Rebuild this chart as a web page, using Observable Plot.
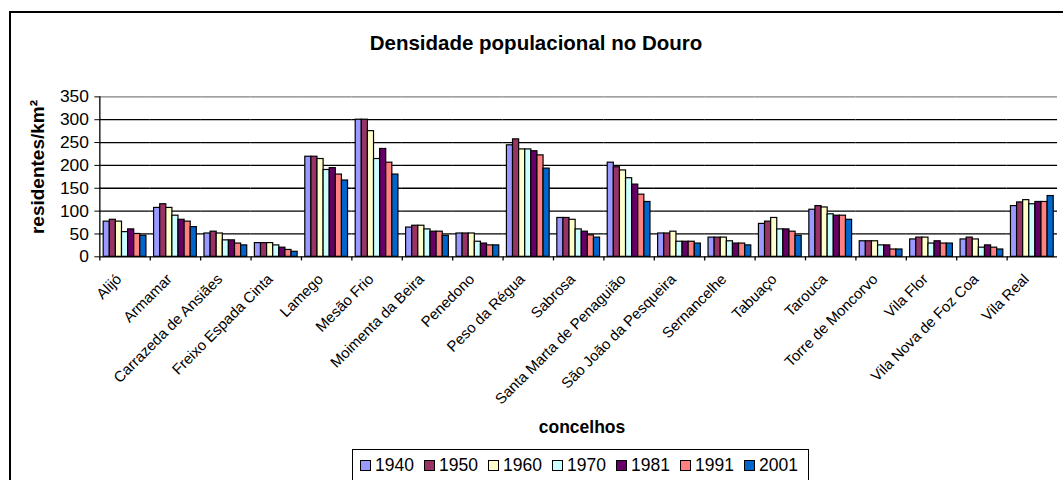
<!DOCTYPE html>
<html>
<head>
<meta charset="utf-8">
<script src="https://cdn.jsdelivr.net/npm/d3@7"></script>
<script src="https://cdn.jsdelivr.net/npm/@observablehq/plot@0.6"></script>
<style>
html, body { margin: 0; padding: 0; background: #fff; width: 1063px; height: 480px; overflow: hidden; }
#wrap { position: relative; width: 1063px; height: 480px; overflow: hidden; font-family: "Liberation Sans", Arial, sans-serif; color: #000; }
#frame { position: absolute; left: 9px; top: 11px; width: 1100px; height: 520px; border: 2px solid #000; box-sizing: border-box; }
#chart { position: absolute; left: 0; top: 0; }
#title { position: absolute; left: 10px; width: 1052px; top: 31px; text-align: center; font-weight: bold; font-size: 20.5px; line-height: 24px; white-space: nowrap; }
#ylab { position: absolute; left: 38px; top: 167px; transform: translate(-50%, -50%) rotate(-90deg); font-weight: bold; font-size: 19px; white-space: nowrap; }
#xlab { position: absolute; left: 482px; width: 200px; top: 417px; text-align: center; font-weight: bold; font-size: 17.5px; line-height: 20px; }
#legend { position: absolute; left: 352px; top: 449px; width: 457px; height: 40px; border: 1.5px solid #000; box-sizing: border-box; display: flex; align-items: flex-start; padding: 5px 0 0 7px; }
.item { display: flex; align-items: center; width: 65px; font-size: 17.5px; line-height: 20px; }
.sw { width: 11px; height: 11px; border: 1.5px solid #000; box-sizing: border-box; margin-right: 4px; }
</style>
</head>
<body>
<div id="wrap">
  <div id="frame"></div>
  <div id="chart"></div>
  <div id="title">Densidade populacional no Douro</div>
  <div id="ylab">residentes/km²</div>
  <div id="xlab">concelhos</div>
  <div id="legend"></div>
</div>
<script>
// ---- data ----
const concelhos = ["Alijó", "Armamar", "Carrazeda de Ansiães", "Freixo Espada Cinta", "Lamego", "Mesão Frio", "Moimenta da Beira", "Penedono", "Peso da Régua", "Sabrosa", "Santa Marta de Penaguião", "São João da Pesqueira", "Sernancelhe", "Tabuaço", "Tarouca", "Torre de Moncorvo", "Vila Flor", "Vila Nova de Foz Coa", "Vila Real"];
const years = ["1940", "1950", "1960", "1970", "1981", "1991", "2001"];
const v1940 = [77, 107, 51, 30, 219, 300, 64, 51, 244, 85, 206, 51, 42, 72, 103, 34, 38, 38, 111];
const v1950 = [81, 115, 55, 30, 219, 300, 68, 51, 257, 85, 196, 51, 42, 77, 111, 34, 42, 42, 119];
const v1960 = [77, 107, 51, 30, 214, 275, 68, 51, 235, 81, 189, 55, 42, 85, 108, 34, 42, 38, 124];
const v1970 = [54, 90, 36, 25, 190, 214, 60, 33, 235, 60, 172, 33, 34, 60, 93, 25, 29, 20, 115];
const v1981 = [60, 81, 36, 20, 194, 236, 55, 29, 231, 55, 158, 33, 29, 60, 90, 25, 34, 25, 120];
const v1991 = [50, 77, 29, 15, 180, 206, 55, 25, 222, 47, 136, 33, 29, 55, 90, 16, 29, 20, 120];
const v2001 = [46, 65, 25, 11, 167, 180, 46, 25, 193, 42, 120, 29, 25, 46, 81, 16, 29, 16, 133];
const yTicks = [0, 50, 100, 150, 200, 250, 300, 350];
const colors = ["#9999FF", "#993366", "#FFFFCC", "#CCFFFF", "#660066", "#FF8080", "#0066CC"];

const series = [v1940, v1950, v1960, v1970, v1981, v1991, v2001];
const table = [];
concelhos.forEach((c, i) => years.forEach((y, j) => table.push({c, year: y, v: series[j][i]})));

// ---- layout ----
const W = 1070, H = 480, mL = 100, mR = 6, mT = 97, mB = 222;
const outerPad = 0.627;
const facetW = (W - mL - mR) / concelhos.length;
const step = facetW / (years.length + 2 * outerPad);
const edge = step * (0.5 + outerPad);

const chart = Plot.plot({
  width: W, height: H,
  marginLeft: mL, marginRight: mR, marginTop: mT, marginBottom: mB,
  style: {fontFamily: "'Liberation Sans', Arial, sans-serif", background: "transparent", color: "#000"},
  fx: {domain: concelhos, padding: 0, round: false, label: null, axis: null},
  x: {domain: years, paddingInner: 0, paddingOuter: outerPad, round: false, axis: null},
  y: {domain: [0, 350], axis: null},
  color: {domain: years, range: colors},
  marks: [
    Plot.ruleY(yTicks.filter(d => d > 0 && d < 350), {stroke: "#000", strokeWidth: 1.3}),
    Plot.ruleY([350], {stroke: "#808080", strokeWidth: 1.3}),
    Plot.barY(table, {fx: "c", x: "year", y: "v", fill: "year", stroke: "#000", strokeWidth: 1.2, inset: 0}),
    Plot.ruleY([0], {stroke: "#000", strokeWidth: 1.3}),
    Plot.ruleX(concelhos, {fx: d => d, x: () => years[0], dx: -edge, y1: 0, y2: -9, stroke: "#000", strokeWidth: 1.3}),
    Plot.ruleX(concelhos.slice(0, 1), {fx: d => d, x: () => years[0], dx: -edge, y1: 0, y2: 350, stroke: "#000", strokeWidth: 1.3}),
    Plot.axisY({ticks: yTicks, tickSize: 5, tickPadding: 6, fontSize: 17.5, label: null}),
    Plot.axisFx({tickRotate: -45, tickSize: 0, tickPadding: 20, dx: -6, fontSize: 15, label: null, anchor: "bottom"})
  ]
});
document.getElementById("chart").appendChild(chart);

// ---- legend ----
const legend = document.getElementById("legend");
years.forEach((y, j) => {
  const it = document.createElement("div");
  it.className = "item";
  const sw = document.createElement("div");
  sw.className = "sw";
  sw.style.background = colors[j];
  const t = document.createElement("span");
  t.textContent = y;
  it.appendChild(sw); it.appendChild(t);
  legend.appendChild(it);
});
</script>
</body>
</html>
